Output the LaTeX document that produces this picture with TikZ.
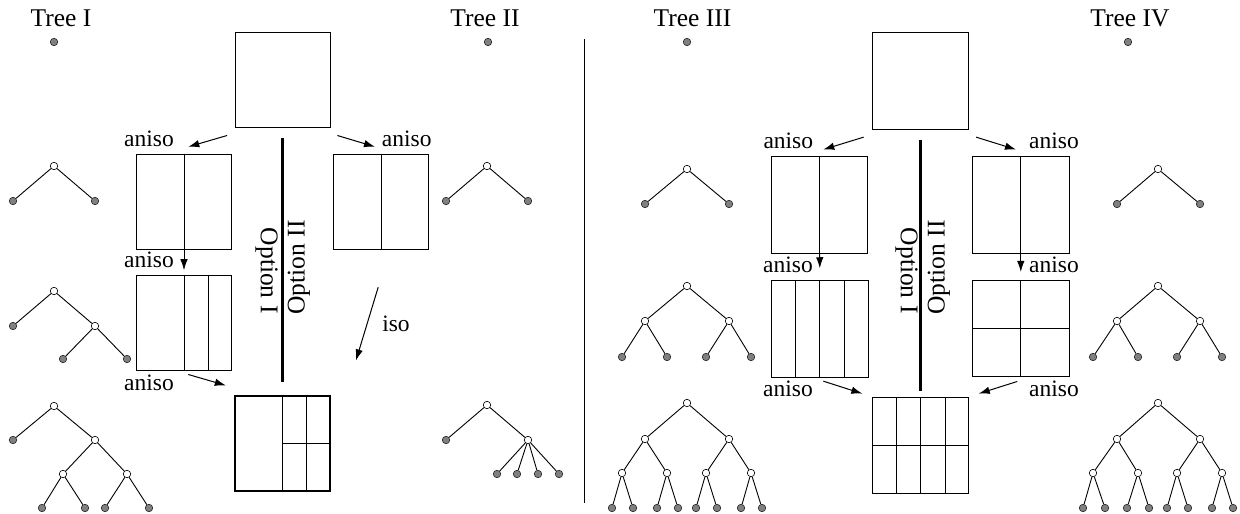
\documentclass[tikz,border=0pt]{standalone}
\usepackage{fontspec}
\setmainfont{Liberation Serif}
\usetikzlibrary{arrows.meta,calc}

\tikzset{
  graydot/.style={circle, draw=black!85, fill=black!50, line width=0.6pt, inner sep=0pt, minimum size=7.5pt},
  whitedot/.style={circle, draw=black, fill=white, line width=0.6pt, inner sep=0pt, minimum size=7.5pt},
  blk/.style={draw, line width=1pt, inner sep=0pt, minimum size=#1},
  part/.style={line width=1pt},
  arr/.style={-{Latex[length=11pt,width=7.5pt]}, line width=1pt},
  lab/.style={font=\fontsize{23.5}{28}\selectfont, anchor=base, inner sep=0pt},
  ttl/.style={font=\fontsize{25.5}{30}\selectfont, anchor=base, inner sep=0pt},
  opt/.style={font=\fontsize{25.5}{30}\selectfont, inner sep=0pt},
}

\begin{document}
\begin{tikzpicture}[x=1pt, y=-1pt, line width=0.9pt]
				\useasboundingbox (0,0) rectangle (1240,514);
				
				% titles
				\node[ttl] (ti) at (61,26.7) {Tree I};
				\node[ttl] (tii) at (485,26.7) {Tree II};
				\node[ttl] (tiii) at (692.5,26.7) {Tree III};
				\node[ttl] (tiv) at (1130,26.7) {Tree IV};
				
				% Tree I
				\node[graydot] (a0) at (54,42) {};
				
				\node[whitedot] (a1) at (54,166) {};
				\node[graydot] (a1l) at (13,201) {};
				\node[graydot] (a1r) at (95,201) {};
				\draw (a1l) -- (a1) -- (a1r);
				
				\node[whitedot] (a2) at (54,291) {};
				\node[graydot] (a2l) at (13,326) {};
				\node[whitedot] (a2r) at (95,326) {};
				\node[graydot] (a2rl) at (63,359) {};
				\node[graydot] (a2rr) at (127,359) {};
				\draw (a2l) -- (a2) -- (a2r);
				\draw (a2rl) -- (a2r) -- (a2rr);
				
				\node[whitedot] (a3) at (54,406) {};
				\node[graydot] (a3l) at (13,440) {};
				\node[whitedot] (a3r) at (95,440) {};
				\node[whitedot] (a3rl) at (63,474) {};
				\node[whitedot] (a3rr) at (127,474) {};
				\node[graydot] (a3rll) at (42,508) {};
				\node[graydot] (a3rlr) at (85,508) {};
				\node[graydot] (a3rrl) at (105,508) {};
				\node[graydot] (a3rrr) at (149,508) {};
				\draw (a3l) -- (a3) -- (a3r);
				\draw (a3rl) -- (a3r) -- (a3rr);
				\draw (a3rll) -- (a3rl) -- (a3rlr);
				\draw (a3rrl) -- (a3rr) -- (a3rrr);
				
				% Tree II
				\node[graydot] (b0) at (488,42) {};
				
				\node[whitedot] (b1) at (487,166) {};
				\node[graydot] (b1l) at (446,201) {};
				\node[graydot] (b1r) at (528,201) {};
				\draw (b1l) -- (b1) -- (b1r);
				
				\node[whitedot] (b3) at (487,405) {};
				\node[graydot] (b3l) at (446,440) {};
				\node[whitedot] (b3r) at (528,440) {};
				\node[graydot] (b3r1) at (497,474) {};
				\node[graydot] (b3r2) at (517,474) {};
				\node[graydot] (b3r3) at (538,474) {};
				\node[graydot] (b3r4) at (559,474) {};
				\draw (b3l) -- (b3) -- (b3r);
				\draw (b3r) -- (b3r1);
				\draw (b3r) -- (b3r2);
				\draw (b3r) -- (b3r3);
				\draw (b3r) -- (b3r4);
				
				% Tree III
				\node[graydot] (c0) at (687,42) {};
				
				\node[whitedot] (c1) at (687,169) {};
				\node[graydot] (c1l) at (645,204) {};
				\node[graydot] (c1r) at (729,204) {};
				\draw (c1l) -- (c1) -- (c1r);
				
				\node[whitedot] (c2) at (687,286) {};
				\node[whitedot] (c2l) at (645,321) {};
				\node[whitedot] (c2r) at (729,321) {};
				\node[graydot] (c2ll) at (622,357) {};
				\node[graydot] (c2lr) at (667,357) {};
				\node[graydot] (c2rl) at (706,357) {};
				\node[graydot] (c2rr) at (751,357) {};
				\draw (c2l) -- (c2) -- (c2r);
				\draw (c2ll) -- (c2l) -- (c2lr);
				\draw (c2rl) -- (c2r) -- (c2rr);
				
				\node[whitedot] (c3) at (687,403) {};
				\node[whitedot] (c3l) at (645,439) {};
				\node[whitedot] (c3r) at (729,439) {};
				\node[whitedot] (c3ll) at (622,473) {};
				\node[whitedot] (c3lr) at (667,473) {};
				\node[whitedot] (c3rl) at (706,473) {};
				\node[whitedot] (c3rr) at (751,473) {};
				\node[graydot] (c3x1) at (612,508) {};
				\node[graydot] (c3x2) at (633,508) {};
				\node[graydot] (c3x3) at (657,508) {};
				\node[graydot] (c3x4) at (678,508) {};
				\node[graydot] (c3x5) at (696,508) {};
				\node[graydot] (c3x6) at (717,508) {};
				\node[graydot] (c3x7) at (741,508) {};
				\node[graydot] (c3x8) at (762,508) {};
				\draw (c3l) -- (c3) -- (c3r);
				\draw (c3ll) -- (c3l) -- (c3lr);
				\draw (c3rl) -- (c3r) -- (c3rr);
				\draw (c3x1) -- (c3ll) -- (c3x2);
				\draw (c3x3) -- (c3lr) -- (c3x4);
				\draw (c3x5) -- (c3rl) -- (c3x6);
				\draw (c3x7) -- (c3rr) -- (c3x8);
				
				% Tree IV
				\node[graydot] (d0) at (1128,42) {};
				
				\node[whitedot] (d1) at (1158,169) {};
				\node[graydot] (d1l) at (1117,204) {};
				\node[graydot] (d1r) at (1200,204) {};
				\draw (d1l) -- (d1) -- (d1r);
				
				\node[whitedot] (d2) at (1158,286) {};
				\node[whitedot] (d2l) at (1117,321) {};
				\node[whitedot] (d2r) at (1200,321) {};
				\node[graydot] (d2ll) at (1093,357) {};
				\node[graydot] (d2lr) at (1138,357) {};
				\node[graydot] (d2rl) at (1177,357) {};
				\node[graydot] (d2rr) at (1222,357) {};
				\draw (d2l) -- (d2) -- (d2r);
				\draw (d2ll) -- (d2l) -- (d2lr);
				\draw (d2rl) -- (d2r) -- (d2rr);
				
				\node[whitedot] (d3) at (1158,403) {};
				\node[whitedot] (d3l) at (1117,439) {};
				\node[whitedot] (d3r) at (1200,439) {};
				\node[whitedot] (d3ll) at (1093,473) {};
				\node[whitedot] (d3lr) at (1138,473) {};
				\node[whitedot] (d3rl) at (1177,473) {};
				\node[whitedot] (d3rr) at (1222,473) {};
				\node[graydot] (d3x1) at (1083,508) {};
				\node[graydot] (d3x2) at (1105,508) {};
				\node[graydot] (d3x3) at (1127,508) {};
				\node[graydot] (d3x4) at (1149,508) {};
				\node[graydot] (d3x5) at (1167,508) {};
				\node[graydot] (d3x6) at (1188,508) {};
				\node[graydot] (d3x7) at (1212,508) {};
				\node[graydot] (d3x8) at (1233,508) {};
				\draw (d3l) -- (d3) -- (d3r);
				\draw (d3ll) -- (d3l) -- (d3lr);
				\draw (d3rl) -- (d3r) -- (d3rr);
				\draw (d3x1) -- (d3ll) -- (d3x2);
				\draw (d3x3) -- (d3lr) -- (d3x4);
				\draw (d3x5) -- (d3rl) -- (d3x6);
				\draw (d3x7) -- (d3rr) -- (d3x8);
				
				% separator
				\coordinate (sepT) at (584,39.3);
				\coordinate (sepB) at (584,503.3);
				\draw[line width=1pt] (sepT) -- (sepB);
				
				% left boxes
				\node[blk=95pt] (topL) at (282.7,80.2) {};
				\node[blk=95pt] (A) at (184,201.5) {};
				\node[blk=95pt] (B) at (184,322.5) {};
				\node[blk=95pt, line width=1.6pt] (C) at (282.7,443.7) {};
				\node[blk=95pt] (D) at (381.2,201.5) {};
				\draw[part] (A.north) -- (A.south);
				\draw[part] (B.north) -- (B.south);
				\draw[part] ($(B.north)!.5!(B.north east)$) -- ($(B.south)!.5!(B.south east)$);
				\draw[part] (C.north) -- (C.south);
				\draw[part] ($(C.north)!.5!(C.north east)$) -- ($(C.south)!.5!(C.south east)$);
				\draw[part] (C.center) -- (C.east);
				\draw[part] (D.north) -- (D.south);
				
				% right boxes
				\node[blk=96.5pt] (topR) at (920.7,81) {};
				\node[blk=96.5pt] (E) at (819.7,205) {};
				\node[blk=96.5pt] (F) at (819.8,329) {};
				\node[blk=96.5pt] (G) at (1020.8,205) {};
				\node[blk=96.5pt] (H) at (1020.8,328.7) {};
				\node[blk=96.5pt] (I) at (920.7,445.7) {};
				\draw[part] (E.north) -- (E.south);
				\draw[part] ($(F.north west)!.25!(F.north east)$) -- ($(F.south west)!.25!(F.south east)$);
				\draw[part] (F.north) -- (F.south);
				\draw[part] ($(F.north west)!.75!(F.north east)$) -- ($(F.south west)!.75!(F.south east)$);
				\draw[part] (G.north) -- (G.south);
				\draw[part] (H.north) -- (H.south);
				\draw[part] (H.west) -- (H.east);
				\draw[part] ($(I.north west)!.25!(I.north east)$) -- ($(I.south west)!.25!(I.south east)$);
				\draw[part] (I.north) -- (I.south);
				\draw[part] ($(I.north west)!.75!(I.north east)$) -- ($(I.south west)!.75!(I.south east)$);
				\draw[part] (I.west) -- (I.east);
				
				% option bars
				\draw[line width=3.4pt] ($(topL.south)+(0,9.6)$) -- ($(C.north)+(0,-13.4)$);
				\draw[line width=3.4pt] ($(topR.south)+(0,10.7)$) -- ($(I.north)+(0,-5.6)$);
				\node[opt, rotate=-90] (o1) at (266.5,270.7) {Option I};
				\node[opt, rotate=90] (o2) at (299,267.5) {Option II};
				\node[opt, rotate=-90] (o3) at (906.5,270.7) {Option I};
				\node[opt, rotate=90] (o4) at (939,267.5) {Option II};
				
				% arrows left
				\draw[arr] ($(topL.south west)+(-7.6,7.3)$) -- ($(A.north)+(4.3,-6.7)$);
				\draw[arr] ($(topL.south east)+(6.7,7.3)$) -- ($(D.north)+(-6.2,-6.7)$);
				\draw[arr] (A.south) -- ($(B.north)+(0,-4.3)$);
				\draw[arr] ($(B.south)+(4.3,4)$) -- ($(C.north west)+(-8.6,-10)$);
				\draw[arr] ($(D.south)+(-3,37.7)$) -- ($(C.north east)+(25,-35)$);
				
				% arrows right
				\draw[arr] ($(topR.south west)+(-8.3,7.4)$) -- ($(E.north)+(3.6,-6.7)$);
				\draw[arr] ($(topR.south east)+(6.7,7.4)$) -- ($(G.north)+(-4.8,-6.7)$);
				\draw[arr] (E.south) -- ($(F.north)+(0,-12)$);
				\draw[arr] (G.south) -- ($(H.north)+(0,-8)$);
				\draw[arr] ($(F.south)+(3.5,3.4)$) -- ($(I.north west)+(-9.6,-3.3)$);
				\draw[arr] ($(H.south)+(-3.5,4)$) -- ($(I.north east)+(9.3,-3.3)$);
				
				% labels
				\node[lab] (l1) at (149,146.7) {aniso};
				\node[lab] (l2) at (149,267.3) {aniso};
				\node[lab] (l3) at (149,390) {aniso};
				\node[lab] (l4) at (406.7,146.7) {aniso};
				\node[lab] (l5) at (396,331.7) {iso};
				\node[lab] (r1) at (788.3,148.3) {aniso};
				\node[lab] (r2) at (788,272.7) {aniso};
				\node[lab] (r3) at (788,396.7) {aniso};
				\node[lab] (r4) at (1054,148.3) {aniso};
				\node[lab] (r5) at (1054,272.7) {aniso};
				\node[lab] (r6) at (1054,396.7) {aniso};
\end{tikzpicture}
\end{document}
